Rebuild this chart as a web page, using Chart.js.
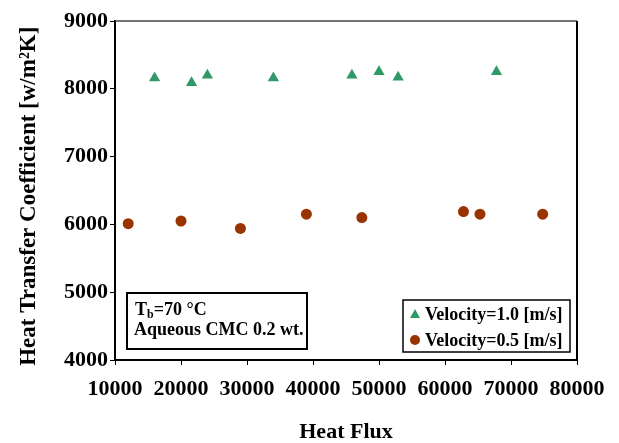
<!DOCTYPE html>
<html>
<head>
<meta charset="utf-8">
<script src="https://cdn.jsdelivr.net/npm/chart.js@4.4.1/dist/chart.umd.min.js"></script>
<style>
  html, body { margin: 0; padding: 0; background: #fff; }
  #wrap { width: 619px; height: 443px; position: relative; }
</style>
</head>
<body>
<div id="wrap"><canvas id="myChart"></canvas></div>
<script>
// values
const fluxFast = [16000, 21600, 24000, 34000, 45900, 50000, 52900, 67800];
const htcFast = [8160, 8090, 8200, 8160, 8200, 8250, 8170, 8250];
const fluxSlow = [12000, 20000, 29000, 39000, 47400, 62800, 65300, 74800];
const htcSlow = [6010, 6050, 5940, 6150, 6100, 6190, 6150, 6150];
const xTicks = [10000, 20000, 30000, 40000, 50000, 60000, 70000, 80000];
const yTicks = [4000, 5000, 6000, 7000, 8000, 9000];
const seriesLabels = ["Velocity=1.0 [m/s]", "Velocity=0.5 [m/s]"];
const noteLines = ["=70 °C", "Aqueous CMC 0.2 wt."];

const FONT = "'Liberation Serif', 'Times New Roman', serif";
const green = "#2f9a68";
const brown = "#993300";

function pairs(xs, ys) {
    return xs.map(function (x, i) { return { x: x, y: ys[i] }; });
}

function plain(value) {
    return String(value);
}

// frame, note box and legend box
const decorations = {
    id: "decorations",
    afterDraw: function (chart) {
        const ctx = chart.ctx;
        const a = chart.chartArea;
        ctx.save();

        // top and right frame
        ctx.strokeStyle = "#444";
        ctx.lineWidth = 1.5;
        ctx.beginPath();
        ctx.moveTo(a.left, a.top);
        ctx.lineTo(a.right, a.top);
        ctx.stroke();
        ctx.strokeStyle = "#000";
        ctx.lineWidth = 2;
        ctx.beginPath();
        ctx.moveTo(a.right, a.top);
        ctx.lineTo(a.right, a.bottom);
        ctx.stroke();

        // note box
        const nx = a.left + 12, ny = a.bottom - 67, nw = 180, nh = 56;
        ctx.lineWidth = 2;
        ctx.strokeStyle = "#000";
        ctx.strokeRect(nx, ny, nw, nh);
        ctx.fillStyle = "#000";
        ctx.textBaseline = "alphabetic";
        ctx.textAlign = "left";
        ctx.font = "bold 18px " + FONT;
        ctx.fillText("T", nx + 8, ny + 22);
        let tw = ctx.measureText("T").width;
        ctx.font = "bold 12px " + FONT;
        ctx.fillText("b", nx + 8 + tw, ny + 25);
        let bw = ctx.measureText("b").width;
        ctx.font = "bold 18px " + FONT;
        ctx.fillText(noteLines[0], nx + 8 + tw + bw, ny + 22);
        ctx.fillText(noteLines[1], nx + 7, ny + 42);

        // legend box
        const lw = 167, lh = 52;
        const lx = a.right - 7 - lw, ly = a.bottom - 8 - lh;
        ctx.lineWidth = 1.5;
        ctx.strokeRect(lx, ly, lw, lh);
        chart.data.datasets.forEach(function (ds, i) {
            const cy = ly + 14 + i * 26;
            ctx.fillStyle = ds.backgroundColor;
            ctx.beginPath();
            if (ds.pointStyle === "triangle") {
                ctx.moveTo(lx + 12, cy - 5);
                ctx.lineTo(lx + 17, cy + 4);
                ctx.lineTo(lx + 7, cy + 4);
                ctx.closePath();
            } else {
                ctx.arc(lx + 12, cy, 5, 0, Math.PI * 2);
            }
            ctx.fill();
            ctx.fillStyle = "#000";
            ctx.font = "bold 18px " + FONT;
            ctx.textBaseline = "middle";
            ctx.fillText(ds.label, lx + 22, cy + 1);
        });
        ctx.restore();
    }
};

const config = {
    type: "scatter",
    data: {
        datasets: [{
            label: seriesLabels[0],
            data: pairs(fluxFast, htcFast),
            pointStyle: "triangle",
            pointRadius: 6.5,
            pointHoverRadius: 6.5,
            backgroundColor: green,
            borderColor: green,
            borderWidth: 0
        }, {
            label: seriesLabels[1],
            data: pairs(fluxSlow, htcSlow),
            pointStyle: "circle",
            pointRadius: 5.5,
            pointHoverRadius: 5.5,
            backgroundColor: brown,
            borderColor: brown,
            borderWidth: 0
        }]
    },
    options: {
        responsive: false,
        animation: false,
        layout: {
            padding: { left: 0, top: 21, right: 42, bottom: 0 }
        },
        scales: {
            x: {
                type: "linear",
                min: 10000,
                max: 80000,
                afterBuildTicks: function (scale) {
                    scale.ticks = xTicks.map(function (v) { return { value: v }; });
                },
                afterFit: function (scale) { scale.height = 83; },
                ticks: {
                    autoSkip: false,
                    maxRotation: 0,
                    color: "#000",
                    padding: 11,
                    callback: plain,
                    font: { family: FONT, size: 22, weight: "bold" }
                },
                grid: {
                    drawOnChartArea: false,
                    tickLength: 5,
                    color: "#000"
                },
                border: { display: true, color: "#000", width: 2 },
                title: {
                    display: true,
                    text: "Heat Flux",
                    color: "#000",
                    padding: { top: 0, bottom: 0 },
                    font: { family: FONT, size: 22, weight: "bold", lineHeight: 1 }
                }
            },
            y: {
                type: "linear",
                min: 4000,
                max: 9000,
                afterBuildTicks: function (scale) {
                    scale.ticks = yTicks.map(function (v) { return { value: v }; });
                },
                afterFit: function (scale) { scale.width = 115; },
                ticks: {
                    color: "#000",
                    padding: 2,
                    callback: plain,
                    font: { family: FONT, size: 22, weight: "bold" }
                },
                grid: {
                    drawOnChartArea: false,
                    tickLength: 5,
                    color: "#000"
                },
                border: { display: true, color: "#000", width: 2 },
                title: {
                    display: true,
                    // trailing spaces nudge the rotated title a little lower, like the original
                    text: "Heat Transfer Coefficient [w/m²K]\u00a0\u00a0",
                    color: "#000",
                    padding: { top: 15, bottom: 0 },
                    font: { family: FONT, size: 23, weight: "bold", lineHeight: 1.2 }
                }
            }
        },
        plugins: {
            legend: { display: false },
            tooltip: { enabled: false }
        }
    },
    plugins: [decorations]
};

const canvas = document.getElementById("myChart");
canvas.width = 619;
canvas.height = 443;
var myChart = new Chart(canvas, config);
</script>
</body>
</html>
